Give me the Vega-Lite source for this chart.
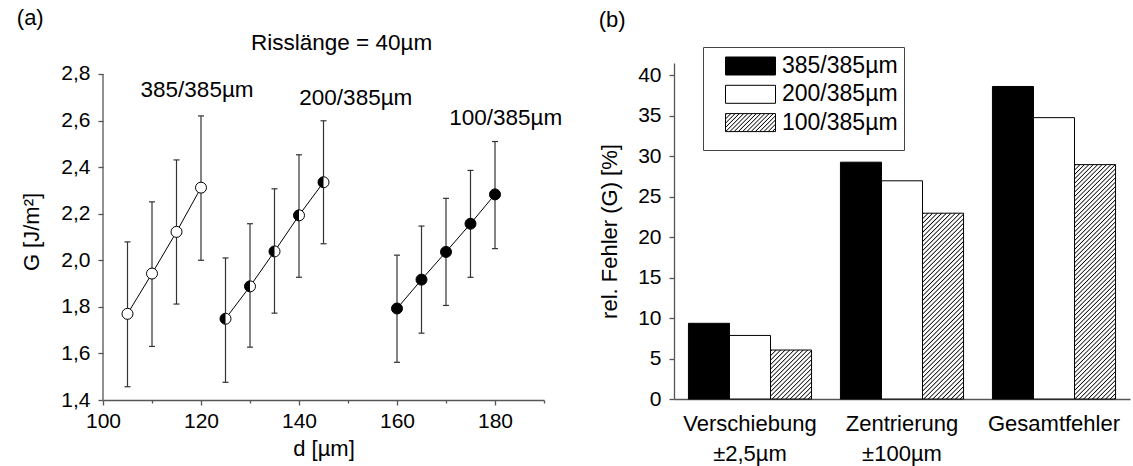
{
"$schema":"https://vega.github.io/schema/vega-lite/v6.json",
"padding":{"left":16,"top":7,"right":4,"bottom":4},
"spacing":35,
"datasets":{
"pts":[
{"d":105,"G":1.77,"lo":1.457,"hi":2.079,"s":"385/385µm"},
{"d":110,"G":1.943,"lo":1.63,"hi":2.251,"s":"385/385µm"},
{"d":115,"G":2.122,"lo":1.812,"hi":2.431,"s":"385/385µm"},
{"d":120,"G":2.312,"lo":2.0,"hi":2.62,"s":"385/385µm"},
{"d":125,"G":1.749,"lo":1.476,"hi":2.01,"s":"200/385µm"},
{"d":130,"G":1.888,"lo":1.627,"hi":2.157,"s":"200/385µm"},
{"d":135,"G":2.038,"lo":1.773,"hi":2.307,"s":"200/385µm"},
{"d":140,"G":2.193,"lo":1.927,"hi":2.453,"s":"200/385µm"},
{"d":145,"G":2.335,"lo":2.071,"hi":2.599,"s":"200/385µm"},
{"d":160,"G":1.793,"lo":1.562,"hi":2.022,"s":"100/385µm"},
{"d":165,"G":1.917,"lo":1.687,"hi":2.147,"s":"100/385µm"},
{"d":170,"G":2.036,"lo":1.806,"hi":2.266,"s":"100/385µm"},
{"d":175,"G":2.157,"lo":1.927,"hi":2.386,"s":"100/385µm"},
{"d":180,"G":2.283,"lo":2.05,"hi":2.51,"s":"100/385µm"}
],
"ann":[
{"x":119.2,"y":2.733,"t":"385/385µm"},
{"x":151.6,"y":2.697,"t":"200/385µm"},
{"x":182.2,"y":2.613,"t":"100/385µm"},
{"x":148.7,"y":2.933,"t":"Risslänge = 40µm"}
],
"bars":[
{"cat":"Verschiebung|±2,5µm","series":"385/385µm","v":9.35},
{"cat":"Verschiebung|±2,5µm","series":"200/385µm","v":7.85},
{"cat":"Verschiebung|±2,5µm","series":"100/385µm","v":6.05},
{"cat":"Zentrierung|±100µm","series":"385/385µm","v":29.25},
{"cat":"Zentrierung|±100µm","series":"200/385µm","v":26.95},
{"cat":"Zentrierung|±100µm","series":"100/385µm","v":22.95},
{"cat":"Gesamtfehler","series":"385/385µm","v":38.6},
{"cat":"Gesamtfehler","series":"200/385µm","v":34.75},
{"cat":"Gesamtfehler","series":"100/385µm","v":28.95}
]
},
"config":{
"font":"Liberation Sans",
"view":{"stroke":null},
"axis":{"domainColor":"#555","domainWidth":1.3,"tickColor":"#555","tickWidth":1.3,"labelFont":"Liberation Sans","labelFontSize":21,"labelColor":"#000","titleFont":"Liberation Sans","titleFontSize":22,"titleFontWeight":"normal","titleColor":"#000","grid":false,"labelFlush":false,"labelOverlap":false},
"title":{"font":"Liberation Sans","fontSize":22,"fontWeight":"normal","anchor":"start","frame":"bounds","color":"#000"}
},
"hconcat":[
{
"title":{"text":"(a)","offset":2,"dx":-4},
"width":441,"height":337,
"data":{"name":"pts"},
"layer":[
{"mark":{"type":"rule","color":"#333","strokeWidth":1.2},
 "encoding":{
  "x":{"field":"d","type":"quantitative","scale":{"domain":[100,190],"nice":false},
   "axis":{"title":"d [µm]","values":[100,110,120,130,140,150,160,170,180,190],"labelExpr":"datum.value % 20 === 0 ? datum.label : ''","tickSize":{"condition":{"test":"datum.value % 20 === 0","value":5},"value":3},"labelPadding":5,"titlePadding":7}},
  "y":{"field":"lo","type":"quantitative","scale":{"domain":[1.4,2.8472],"nice":false},
   "axis":{"title":"G [J/m²]","domain":false,"values":[1.4,1.5,1.6,1.7,1.8,1.9,2.0,2.1,2.2,2.3,2.4,2.5,2.6,2.7,2.8],"labelExpr":"round(datum.value*10) % 2 === 0 ? replace(format(datum.value,'.1f'),'.',',') : ''","tickSize":{"condition":{"test":"round(datum.value*10) % 2 === 0","value":5},"value":3},"labelPadding":8,"titlePadding":17}},
  "y2":{"field":"hi"}
 }},
{"data":{"values":[{}]},
 "mark":{"type":"rule","color":"#555","strokeWidth":1.3},
 "encoding":{"x":{"datum":100,"type":"quantitative"},"y":{"datum":1.4,"type":"quantitative"},"y2":{"datum":2.8}}},
{"mark":{"type":"tick","orient":"horizontal","color":"#333","size":6,"thickness":1.2,"opacity":1},
 "encoding":{"x":{"field":"d","type":"quantitative"},"y":{"field":"lo","type":"quantitative"}}},
{"mark":{"type":"tick","orient":"horizontal","color":"#333","size":6,"thickness":1.2,"opacity":1},
 "encoding":{"x":{"field":"d","type":"quantitative"},"y":{"field":"hi","type":"quantitative"}}},
{"mark":{"type":"line","color":"#000","strokeWidth":1},
 "encoding":{"x":{"field":"d","type":"quantitative"},"y":{"field":"G","type":"quantitative"},"detail":{"field":"s"}}},
{"mark":{"type":"point","shape":"circle","filled":true,"stroke":"#000","strokeWidth":1,"size":121,"opacity":1},
 "encoding":{"x":{"field":"d","type":"quantitative"},"y":{"field":"G","type":"quantitative"},
  "fill":{"condition":{"test":"datum.s === '100/385µm'","value":"#000"},"value":"#fff"}}},
{"transform":[{"filter":"datum.s === '200/385µm'"}],
 "mark":{"type":"point","shape":"M0,-1A1,1,0,0,0,0,1Z","filled":true,"fill":"#000","strokeWidth":0,"size":121,"opacity":1},
 "encoding":{"x":{"field":"d","type":"quantitative"},"y":{"field":"G","type":"quantitative"}}},
{"data":{"name":"ann"},
 "mark":{"type":"text","fontSize":22.5,"font":"Liberation Sans","color":"#000","baseline":"middle","align":"center"},
 "encoding":{"x":{"field":"x","type":"quantitative"},"y":{"field":"y","type":"quantitative"},"text":{"field":"t"}}}
]
},
{
"title":{"text":"(b)","offset":31},
"width":456,"height":336,
"data":{"name":"bars"},
"layer":[
{"mark":{"type":"bar","stroke":"#000","strokeWidth":1,"opacity":1},
"encoding":{
 "x":{"field":"cat","type":"nominal","sort":null,"scale":{"paddingInner":0.19,"paddingOuter":0.095},
  "axis":{"title":null,"ticks":false,"tickSize":0,"labelAngle":0,"labelExpr":"split(datum.label,'|')","labelPadding":14,"labelLineHeight":30,"labelFontSize":22}},
 "xOffset":{"field":"series","type":"nominal","sort":["385/385µm","200/385µm","100/385µm"]},
 "y":{"field":"v","type":"quantitative","scale":{"domain":[0,41.5],"nice":false},
  "axis":{"title":"rel. Fehler (G) [%]","values":[0,2.5,5,7.5,10,12.5,15,17.5,20,22.5,25,27.5,30,32.5,35,37.5,40],"labelExpr":"datum.value % 5 === 0 ? datum.label : ''","tickSize":{"condition":{"test":"datum.value % 5 === 0","value":5},"value":3},"labelPadding":8,"titlePadding":16}},
 "fill":{"field":"series","type":"nominal",
  "scale":{"domain":["385/385µm","200/385µm","100/385µm"],"range":["#000000","#ffffff","url(#gradient_3) #aaaaaa"]},
  "legend":{"orient":"none","legendX":600,"legendY":-16,"title":"\u00a0","titleOrient":"bottom","titleFontSize":6,"titlePadding":3,"symbolType":"M-2,-0.72H2V0.72H-2Z","symbolSize":625,"symbolStrokeColor":"#000","symbolStrokeWidth":1,"labelFontSize":23,"labelFont":"Liberation Sans","labelColor":"#000","strokeColor":"#444","fillColor":"#fff","padding":6,"rowPadding":3.3,"labelOffset":18.5,"symbolOffset":28.5},
  "condition":[
   {"test":"datum.series === '100/385µm' && indexof(datum.cat,'Versch') === 0","value":{"gradient":"linear","x1":0,"y1":0,"x2":0.9045,"y2":1.0799,"stops":[
{"offset":0,"color":"#fff"},{"offset":0.0125,"color":"#000"},{"offset":0.025,"color":"#fff"},
{"offset":0.05,"color":"#fff"},{"offset":0.0625,"color":"#000"},{"offset":0.075,"color":"#fff"},
{"offset":0.1,"color":"#fff"},{"offset":0.1125,"color":"#000"},{"offset":0.125,"color":"#fff"},
{"offset":0.15,"color":"#fff"},{"offset":0.1625,"color":"#000"},{"offset":0.175,"color":"#fff"},
{"offset":0.2,"color":"#fff"},{"offset":0.2125,"color":"#000"},{"offset":0.225,"color":"#fff"},
{"offset":0.25,"color":"#fff"},{"offset":0.2625,"color":"#000"},{"offset":0.275,"color":"#fff"},
{"offset":0.3,"color":"#fff"},{"offset":0.3125,"color":"#000"},{"offset":0.325,"color":"#fff"},
{"offset":0.35,"color":"#fff"},{"offset":0.3625,"color":"#000"},{"offset":0.375,"color":"#fff"},
{"offset":0.4,"color":"#fff"},{"offset":0.4125,"color":"#000"},{"offset":0.425,"color":"#fff"},
{"offset":0.45,"color":"#fff"},{"offset":0.4625,"color":"#000"},{"offset":0.475,"color":"#fff"},
{"offset":0.5,"color":"#fff"},{"offset":0.5125,"color":"#000"},{"offset":0.525,"color":"#fff"},
{"offset":0.55,"color":"#fff"},{"offset":0.5625,"color":"#000"},{"offset":0.575,"color":"#fff"},
{"offset":0.6,"color":"#fff"},{"offset":0.6125,"color":"#000"},{"offset":0.625,"color":"#fff"},
{"offset":0.65,"color":"#fff"},{"offset":0.6625,"color":"#000"},{"offset":0.675,"color":"#fff"},
{"offset":0.7,"color":"#fff"},{"offset":0.7125,"color":"#000"},{"offset":0.725,"color":"#fff"},
{"offset":0.75,"color":"#fff"},{"offset":0.7625,"color":"#000"},{"offset":0.775,"color":"#fff"},
{"offset":0.8,"color":"#fff"},{"offset":0.8125,"color":"#000"},{"offset":0.825,"color":"#fff"},
{"offset":0.85,"color":"#fff"},{"offset":0.8625,"color":"#000"},{"offset":0.875,"color":"#fff"},
{"offset":0.9,"color":"#fff"},{"offset":0.9125,"color":"#000"},{"offset":0.925,"color":"#fff"},
{"offset":0.95,"color":"#fff"},{"offset":0.9625,"color":"#000"},{"offset":0.975,"color":"#fff"}
   ]}},
   {"test":"datum.series === '100/385µm' && indexof(datum.cat,'Zentr') === 0","value":{"gradient":"linear","x1":0,"y1":0,"x2":0.25653,"y2":1.16387,"stops":[
{"offset":0,"color":"#fff"},{"offset":0.005,"color":"#000"},{"offset":0.01,"color":"#fff"},
{"offset":0.02,"color":"#fff"},{"offset":0.025,"color":"#000"},{"offset":0.03,"color":"#fff"},
{"offset":0.04,"color":"#fff"},{"offset":0.045,"color":"#000"},{"offset":0.05,"color":"#fff"},
{"offset":0.06,"color":"#fff"},{"offset":0.065,"color":"#000"},{"offset":0.07,"color":"#fff"},
{"offset":0.08,"color":"#fff"},{"offset":0.085,"color":"#000"},{"offset":0.09,"color":"#fff"},
{"offset":0.1,"color":"#fff"},{"offset":0.105,"color":"#000"},{"offset":0.11,"color":"#fff"},
{"offset":0.12,"color":"#fff"},{"offset":0.125,"color":"#000"},{"offset":0.13,"color":"#fff"},
{"offset":0.14,"color":"#fff"},{"offset":0.145,"color":"#000"},{"offset":0.15,"color":"#fff"},
{"offset":0.16,"color":"#fff"},{"offset":0.165,"color":"#000"},{"offset":0.17,"color":"#fff"},
{"offset":0.18,"color":"#fff"},{"offset":0.185,"color":"#000"},{"offset":0.19,"color":"#fff"},
{"offset":0.2,"color":"#fff"},{"offset":0.205,"color":"#000"},{"offset":0.21,"color":"#fff"},
{"offset":0.22,"color":"#fff"},{"offset":0.225,"color":"#000"},{"offset":0.23,"color":"#fff"},
{"offset":0.24,"color":"#fff"},{"offset":0.245,"color":"#000"},{"offset":0.25,"color":"#fff"},
{"offset":0.26,"color":"#fff"},{"offset":0.265,"color":"#000"},{"offset":0.27,"color":"#fff"},
{"offset":0.28,"color":"#fff"},{"offset":0.285,"color":"#000"},{"offset":0.29,"color":"#fff"},
{"offset":0.3,"color":"#fff"},{"offset":0.305,"color":"#000"},{"offset":0.31,"color":"#fff"},
{"offset":0.32,"color":"#fff"},{"offset":0.325,"color":"#000"},{"offset":0.33,"color":"#fff"},
{"offset":0.34,"color":"#fff"},{"offset":0.345,"color":"#000"},{"offset":0.35,"color":"#fff"},
{"offset":0.36,"color":"#fff"},{"offset":0.365,"color":"#000"},{"offset":0.37,"color":"#fff"},
{"offset":0.38,"color":"#fff"},{"offset":0.385,"color":"#000"},{"offset":0.39,"color":"#fff"},
{"offset":0.4,"color":"#fff"},{"offset":0.405,"color":"#000"},{"offset":0.41,"color":"#fff"},
{"offset":0.42,"color":"#fff"},{"offset":0.425,"color":"#000"},{"offset":0.43,"color":"#fff"},
{"offset":0.44,"color":"#fff"},{"offset":0.445,"color":"#000"},{"offset":0.45,"color":"#fff"},
{"offset":0.46,"color":"#fff"},{"offset":0.465,"color":"#000"},{"offset":0.47,"color":"#fff"},
{"offset":0.48,"color":"#fff"},{"offset":0.485,"color":"#000"},{"offset":0.49,"color":"#fff"},
{"offset":0.5,"color":"#fff"},{"offset":0.505,"color":"#000"},{"offset":0.51,"color":"#fff"},
{"offset":0.52,"color":"#fff"},{"offset":0.525,"color":"#000"},{"offset":0.53,"color":"#fff"},
{"offset":0.54,"color":"#fff"},{"offset":0.545,"color":"#000"},{"offset":0.55,"color":"#fff"},
{"offset":0.56,"color":"#fff"},{"offset":0.565,"color":"#000"},{"offset":0.57,"color":"#fff"},
{"offset":0.58,"color":"#fff"},{"offset":0.585,"color":"#000"},{"offset":0.59,"color":"#fff"},
{"offset":0.6,"color":"#fff"},{"offset":0.605,"color":"#000"},{"offset":0.61,"color":"#fff"},
{"offset":0.62,"color":"#fff"},{"offset":0.625,"color":"#000"},{"offset":0.63,"color":"#fff"},
{"offset":0.64,"color":"#fff"},{"offset":0.645,"color":"#000"},{"offset":0.65,"color":"#fff"},
{"offset":0.66,"color":"#fff"},{"offset":0.665,"color":"#000"},{"offset":0.67,"color":"#fff"},
{"offset":0.68,"color":"#fff"},{"offset":0.685,"color":"#000"},{"offset":0.69,"color":"#fff"},
{"offset":0.7,"color":"#fff"},{"offset":0.705,"color":"#000"},{"offset":0.71,"color":"#fff"},
{"offset":0.72,"color":"#fff"},{"offset":0.725,"color":"#000"},{"offset":0.73,"color":"#fff"},
{"offset":0.74,"color":"#fff"},{"offset":0.745,"color":"#000"},{"offset":0.75,"color":"#fff"},
{"offset":0.76,"color":"#fff"},{"offset":0.765,"color":"#000"},{"offset":0.77,"color":"#fff"},
{"offset":0.78,"color":"#fff"},{"offset":0.785,"color":"#000"},{"offset":0.79,"color":"#fff"},
{"offset":0.8,"color":"#fff"},{"offset":0.805,"color":"#000"},{"offset":0.81,"color":"#fff"},
{"offset":0.82,"color":"#fff"},{"offset":0.825,"color":"#000"},{"offset":0.83,"color":"#fff"},
{"offset":0.84,"color":"#fff"},{"offset":0.845,"color":"#000"},{"offset":0.85,"color":"#fff"},
{"offset":0.86,"color":"#fff"},{"offset":0.865,"color":"#000"},{"offset":0.87,"color":"#fff"},
{"offset":0.88,"color":"#fff"},{"offset":0.885,"color":"#000"},{"offset":0.89,"color":"#fff"},
{"offset":0.9,"color":"#fff"},{"offset":0.905,"color":"#000"},{"offset":0.91,"color":"#fff"},
{"offset":0.92,"color":"#fff"},{"offset":0.925,"color":"#000"},{"offset":0.93,"color":"#fff"},
{"offset":0.94,"color":"#fff"},{"offset":0.945,"color":"#000"},{"offset":0.95,"color":"#fff"},
{"offset":0.96,"color":"#fff"},{"offset":0.965,"color":"#000"},{"offset":0.97,"color":"#fff"},
{"offset":0.98,"color":"#fff"},{"offset":0.985,"color":"#000"},{"offset":0.99,"color":"#fff"}
   ]}},
   {"test":"datum.series === '100/385µm' && datum.cat === 'Gesamtfehler'","value":{"gradient":"linear","x1":0,"y1":0,"x2":0.19963,"y2":1.14014,"stops":[
{"offset":0,"color":"#fff"},{"offset":0.004,"color":"#000"},{"offset":0.008,"color":"#fff"},
{"offset":0.016,"color":"#fff"},{"offset":0.02,"color":"#000"},{"offset":0.024,"color":"#fff"},
{"offset":0.032,"color":"#fff"},{"offset":0.036,"color":"#000"},{"offset":0.04,"color":"#fff"},
{"offset":0.048,"color":"#fff"},{"offset":0.052,"color":"#000"},{"offset":0.056,"color":"#fff"},
{"offset":0.064,"color":"#fff"},{"offset":0.068,"color":"#000"},{"offset":0.072,"color":"#fff"},
{"offset":0.08,"color":"#fff"},{"offset":0.084,"color":"#000"},{"offset":0.088,"color":"#fff"},
{"offset":0.096,"color":"#fff"},{"offset":0.1,"color":"#000"},{"offset":0.104,"color":"#fff"},
{"offset":0.112,"color":"#fff"},{"offset":0.116,"color":"#000"},{"offset":0.12,"color":"#fff"},
{"offset":0.128,"color":"#fff"},{"offset":0.132,"color":"#000"},{"offset":0.136,"color":"#fff"},
{"offset":0.144,"color":"#fff"},{"offset":0.148,"color":"#000"},{"offset":0.152,"color":"#fff"},
{"offset":0.16,"color":"#fff"},{"offset":0.164,"color":"#000"},{"offset":0.168,"color":"#fff"},
{"offset":0.176,"color":"#fff"},{"offset":0.18,"color":"#000"},{"offset":0.184,"color":"#fff"},
{"offset":0.192,"color":"#fff"},{"offset":0.196,"color":"#000"},{"offset":0.2,"color":"#fff"},
{"offset":0.208,"color":"#fff"},{"offset":0.212,"color":"#000"},{"offset":0.216,"color":"#fff"},
{"offset":0.224,"color":"#fff"},{"offset":0.228,"color":"#000"},{"offset":0.232,"color":"#fff"},
{"offset":0.24,"color":"#fff"},{"offset":0.244,"color":"#000"},{"offset":0.248,"color":"#fff"},
{"offset":0.256,"color":"#fff"},{"offset":0.26,"color":"#000"},{"offset":0.264,"color":"#fff"},
{"offset":0.272,"color":"#fff"},{"offset":0.276,"color":"#000"},{"offset":0.28,"color":"#fff"},
{"offset":0.288,"color":"#fff"},{"offset":0.292,"color":"#000"},{"offset":0.296,"color":"#fff"},
{"offset":0.304,"color":"#fff"},{"offset":0.308,"color":"#000"},{"offset":0.312,"color":"#fff"},
{"offset":0.32,"color":"#fff"},{"offset":0.324,"color":"#000"},{"offset":0.328,"color":"#fff"},
{"offset":0.336,"color":"#fff"},{"offset":0.34,"color":"#000"},{"offset":0.344,"color":"#fff"},
{"offset":0.352,"color":"#fff"},{"offset":0.356,"color":"#000"},{"offset":0.36,"color":"#fff"},
{"offset":0.368,"color":"#fff"},{"offset":0.372,"color":"#000"},{"offset":0.376,"color":"#fff"},
{"offset":0.384,"color":"#fff"},{"offset":0.388,"color":"#000"},{"offset":0.392,"color":"#fff"},
{"offset":0.4,"color":"#fff"},{"offset":0.404,"color":"#000"},{"offset":0.408,"color":"#fff"},
{"offset":0.416,"color":"#fff"},{"offset":0.42,"color":"#000"},{"offset":0.424,"color":"#fff"},
{"offset":0.432,"color":"#fff"},{"offset":0.436,"color":"#000"},{"offset":0.44,"color":"#fff"},
{"offset":0.448,"color":"#fff"},{"offset":0.452,"color":"#000"},{"offset":0.456,"color":"#fff"},
{"offset":0.464,"color":"#fff"},{"offset":0.468,"color":"#000"},{"offset":0.472,"color":"#fff"},
{"offset":0.48,"color":"#fff"},{"offset":0.484,"color":"#000"},{"offset":0.488,"color":"#fff"},
{"offset":0.496,"color":"#fff"},{"offset":0.5,"color":"#000"},{"offset":0.504,"color":"#fff"},
{"offset":0.512,"color":"#fff"},{"offset":0.516,"color":"#000"},{"offset":0.52,"color":"#fff"},
{"offset":0.528,"color":"#fff"},{"offset":0.532,"color":"#000"},{"offset":0.536,"color":"#fff"},
{"offset":0.544,"color":"#fff"},{"offset":0.548,"color":"#000"},{"offset":0.552,"color":"#fff"},
{"offset":0.56,"color":"#fff"},{"offset":0.564,"color":"#000"},{"offset":0.568,"color":"#fff"},
{"offset":0.576,"color":"#fff"},{"offset":0.58,"color":"#000"},{"offset":0.584,"color":"#fff"},
{"offset":0.592,"color":"#fff"},{"offset":0.596,"color":"#000"},{"offset":0.6,"color":"#fff"},
{"offset":0.608,"color":"#fff"},{"offset":0.612,"color":"#000"},{"offset":0.616,"color":"#fff"},
{"offset":0.624,"color":"#fff"},{"offset":0.628,"color":"#000"},{"offset":0.632,"color":"#fff"},
{"offset":0.64,"color":"#fff"},{"offset":0.644,"color":"#000"},{"offset":0.648,"color":"#fff"},
{"offset":0.656,"color":"#fff"},{"offset":0.66,"color":"#000"},{"offset":0.664,"color":"#fff"},
{"offset":0.672,"color":"#fff"},{"offset":0.676,"color":"#000"},{"offset":0.68,"color":"#fff"},
{"offset":0.688,"color":"#fff"},{"offset":0.692,"color":"#000"},{"offset":0.696,"color":"#fff"},
{"offset":0.704,"color":"#fff"},{"offset":0.708,"color":"#000"},{"offset":0.712,"color":"#fff"},
{"offset":0.72,"color":"#fff"},{"offset":0.724,"color":"#000"},{"offset":0.728,"color":"#fff"},
{"offset":0.736,"color":"#fff"},{"offset":0.74,"color":"#000"},{"offset":0.744,"color":"#fff"},
{"offset":0.752,"color":"#fff"},{"offset":0.756,"color":"#000"},{"offset":0.76,"color":"#fff"},
{"offset":0.768,"color":"#fff"},{"offset":0.772,"color":"#000"},{"offset":0.776,"color":"#fff"},
{"offset":0.784,"color":"#fff"},{"offset":0.788,"color":"#000"},{"offset":0.792,"color":"#fff"},
{"offset":0.8,"color":"#fff"},{"offset":0.804,"color":"#000"},{"offset":0.808,"color":"#fff"},
{"offset":0.816,"color":"#fff"},{"offset":0.82,"color":"#000"},{"offset":0.824,"color":"#fff"},
{"offset":0.832,"color":"#fff"},{"offset":0.836,"color":"#000"},{"offset":0.84,"color":"#fff"},
{"offset":0.848,"color":"#fff"},{"offset":0.852,"color":"#000"},{"offset":0.856,"color":"#fff"},
{"offset":0.864,"color":"#fff"},{"offset":0.868,"color":"#000"},{"offset":0.872,"color":"#fff"},
{"offset":0.88,"color":"#fff"},{"offset":0.884,"color":"#000"},{"offset":0.888,"color":"#fff"},
{"offset":0.896,"color":"#fff"},{"offset":0.9,"color":"#000"},{"offset":0.904,"color":"#fff"},
{"offset":0.912,"color":"#fff"},{"offset":0.916,"color":"#000"},{"offset":0.92,"color":"#fff"},
{"offset":0.928,"color":"#fff"},{"offset":0.932,"color":"#000"},{"offset":0.936,"color":"#fff"},
{"offset":0.944,"color":"#fff"},{"offset":0.948,"color":"#000"},{"offset":0.952,"color":"#fff"},
{"offset":0.96,"color":"#fff"},{"offset":0.964,"color":"#000"},{"offset":0.968,"color":"#fff"},
{"offset":0.976,"color":"#fff"},{"offset":0.98,"color":"#000"},{"offset":0.984,"color":"#fff"},
{"offset":0.992,"color":"#fff"},{"offset":0.996,"color":"#000"},{"offset":1,"color":"#fff"}
   ]}}
  ]
 }
}
},
{"transform":[{"filter":"datum.series === '100/385µm' && datum.cat === 'Gesamtfehler'"}],
 "mark":{"type":"bar","strokeWidth":0,"fillOpacity":0,
   "fill":{"gradient":"linear","x1":0,"y1":0,"x2":1.204,"y2":0.4334,"stops":[
{"offset":0,"color":"#fff"},{"offset":0.016,"color":"#000"},{"offset":0.032,"color":"#fff"},
{"offset":0.0625,"color":"#fff"},{"offset":0.0785,"color":"#000"},{"offset":0.0945,"color":"#fff"},
{"offset":0.125,"color":"#fff"},{"offset":0.141,"color":"#000"},{"offset":0.157,"color":"#fff"},
{"offset":0.1875,"color":"#fff"},{"offset":0.2035,"color":"#000"},{"offset":0.2195,"color":"#fff"},
{"offset":0.25,"color":"#fff"},{"offset":0.266,"color":"#000"},{"offset":0.282,"color":"#fff"},
{"offset":0.3125,"color":"#fff"},{"offset":0.3285,"color":"#000"},{"offset":0.3445,"color":"#fff"},
{"offset":0.375,"color":"#fff"},{"offset":0.391,"color":"#000"},{"offset":0.407,"color":"#fff"},
{"offset":0.4375,"color":"#fff"},{"offset":0.4535,"color":"#000"},{"offset":0.4695,"color":"#fff"},
{"offset":0.5,"color":"#fff"},{"offset":0.516,"color":"#000"},{"offset":0.532,"color":"#fff"},
{"offset":0.5625,"color":"#fff"},{"offset":0.5785,"color":"#000"},{"offset":0.5945,"color":"#fff"},
{"offset":0.625,"color":"#fff"},{"offset":0.641,"color":"#000"},{"offset":0.657,"color":"#fff"},
{"offset":0.6875,"color":"#fff"},{"offset":0.7035,"color":"#000"},{"offset":0.7195,"color":"#fff"},
{"offset":0.75,"color":"#fff"},{"offset":0.766,"color":"#000"},{"offset":0.782,"color":"#fff"},
{"offset":0.8125,"color":"#fff"},{"offset":0.8285,"color":"#000"},{"offset":0.8445,"color":"#fff"},
{"offset":0.875,"color":"#fff"},{"offset":0.891,"color":"#000"},{"offset":0.907,"color":"#fff"},
{"offset":0.9375,"color":"#fff"},{"offset":0.9535,"color":"#000"},{"offset":0.9695,"color":"#fff"}
   ]}},
 "encoding":{"x":{"field":"cat","type":"nominal","sort":null},"xOffset":{"field":"series","type":"nominal","sort":["385/385µm","200/385µm","100/385µm"]},"y":{"field":"v","type":"quantitative"}}}
]
}
]
}
